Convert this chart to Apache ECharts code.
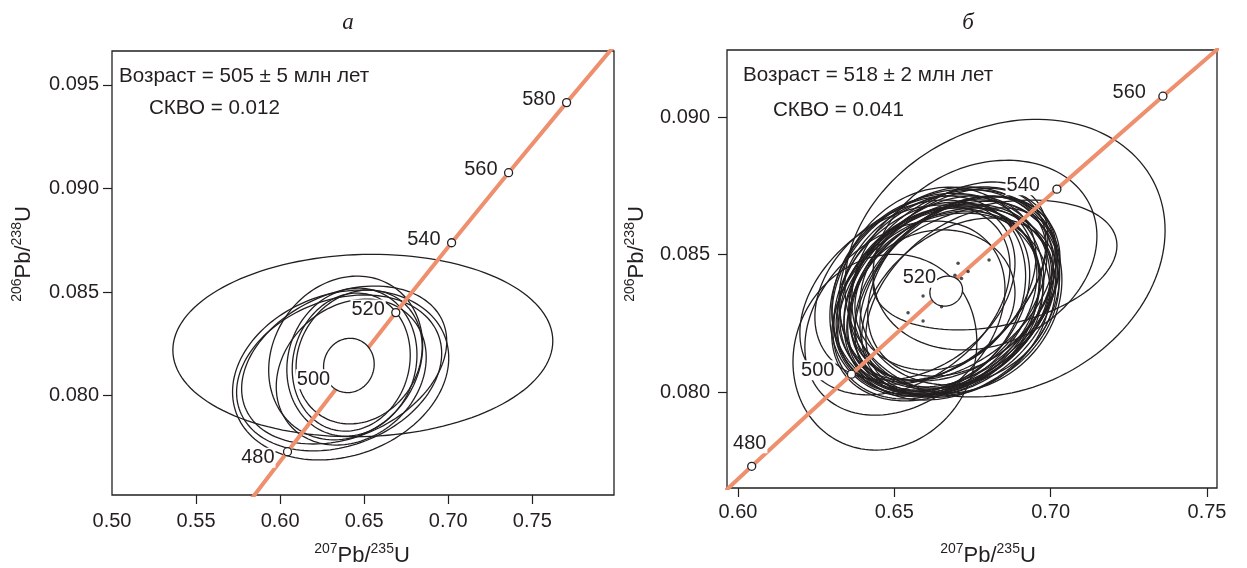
<!DOCTYPE html>
<html>
<head>
<meta charset="utf-8">
<script src="https://cdn.jsdelivr.net/npm/echarts@6.0.0/dist/echarts.min.js"></script>
<style>
  html, body { margin: 0; padding: 0; background: #fff; }
  #chart { width: 1247px; height: 568px; }
</style>
</head>
<body>
<div id="chart"></div>
<script>
// concordia: age (Ma) -> 207Pb/235U, 206Pb/238U
const concAge = [440, 460, 480, 500, 520, 540, 560, 580, 600]
const concX = [0.5424, 0.5731, 0.6044, 0.6363, 0.6688, 0.7020, 0.7359, 0.7704, 0.8056]
const concY = [0.07064, 0.07397, 0.07730, 0.08065, 0.08401, 0.08738, 0.09076, 0.09414, 0.09754]

const aTickAges = [480, 500, 520, 540, 560, 580]
const bTickAges = [480, 500, 520, 540, 560]

// axis ticks
const aXTicks = [0.50, 0.55, 0.60, 0.65, 0.70, 0.75]
const aYTicks = [0.080, 0.085, 0.090, 0.095]
const bXTicks = [0.60, 0.65, 0.70, 0.75]
const bYTicks = [0.080, 0.085, 0.090]

// panel a: error ellipses (centre, half-extent in x / y, correlation)
const aCx = [0.6492, 0.6360, 0.6351, 0.6381, 0.6390, 0.6427, 0.6423, 0.6470, 0.6423]
const aCy = [0.08242, 0.08100, 0.08110, 0.08148, 0.08182, 0.08162, 0.08162, 0.08187, 0.08114]
const aSx = [0.1130, 0.0643, 0.0610, 0.0610, 0.0458, 0.0387, 0.0351, 0.0375, 0.0446]
const aSy = [0.00440, 0.00410, 0.00376, 0.00381, 0.00395, 0.00357, 0.00333, 0.00323, 0.00352]
const aRho = [0.05, 0.2, 0.25, 0.3, 0.15, 0.1, 0.1, 0.15, 0.2]
const aMean = [0.6409, 0.08146, 0.01506, 0.00131, 0.05]

// panel b
const bCx = [0.6662, 0.6678, 0.6646, 0.6694, 0.6671, 0.6630, 0.6703, 0.6652, 0.6684, 0.6639, 0.6710, 0.6665,
  0.6687, 0.6620, 0.6719, 0.6659, 0.6678, 0.6646, 0.6700, 0.6633, 0.6671, 0.6694, 0.6607, 0.6716,
  0.6659, 0.6681, 0.6643, 0.6703, 0.6470, 0.6854, 0.6790, 0.6822, 0.6534, 0.6566, 0.6534, 0.6630]
const bCy = [0.08364, 0.08349, 0.08335, 0.08378, 0.08371, 0.08324, 0.08353, 0.08385, 0.08335, 0.08356, 0.08364, 0.08342,
  0.08393, 0.08342, 0.08335, 0.08360, 0.08316, 0.08378, 0.08371, 0.08313, 0.08400, 0.08327, 0.08349, 0.08385,
  0.08335, 0.08356, 0.08367, 0.08313, 0.08145, 0.08487, 0.08498, 0.08462, 0.08335, 0.08371, 0.08269, 0.08335]
const bSx = [0.0336, 0.0330, 0.0320, 0.0320, 0.0352, 0.0326, 0.0313, 0.0333, 0.0345, 0.0339, 0.0320, 0.0310,
  0.0333, 0.0313, 0.0310, 0.0358, 0.0320, 0.0307, 0.0336, 0.0333, 0.0320, 0.0333, 0.0313, 0.0301,
  0.0345, 0.0307, 0.0320, 0.0307, 0.0294, 0.0512, 0.0358, 0.0390, 0.0336, 0.0320, 0.0320, 0.0256]
const bSy = [0.00353, 0.00345, 0.00342, 0.00335, 0.00364, 0.00349, 0.00327, 0.00356, 0.00364, 0.00367, 0.00345, 0.00327,
  0.00353, 0.00349, 0.00335, 0.00378, 0.00335, 0.00335, 0.00375, 0.00345, 0.00364, 0.00342, 0.00364, 0.00327,
  0.00349, 0.00356, 0.00378, 0.00320, 0.00356, 0.00505, 0.00345, 0.00236, 0.00345, 0.00327, 0.00353, 0.00255]
const bRho = [0.15, 0.35, 0.2, 0.4, 0.25, 0.3, 0.1, 0.45, 0.25, 0.15, 0.35, 0.1,
  0.3, 0.25, 0.4, 0.2, 0.15, 0.35, 0.1, 0.3, 0.45, 0.2, 0.2, 0.3,
  0.25, 0.4, 0.1, 0.35, 0.1, 0.2, 0.2, 0.3, 0.35, 0.3, 0.3, 0.1]
const bMean = [0.6666, 0.08367, 0.00522, 0.000545, 0.1]
const bDotX = [0.6704, 0.6694, 0.6736, 0.6715, 0.6803, 0.6592, 0.6544, 0.6592, 0.6651]
const bDotY = [0.08468, 0.08425, 0.08438, 0.08413, 0.08480, 0.08349, 0.08288, 0.08258, 0.08310]

const aTitle = 'а'
const bTitle = 'б'
const aAge = 'Возраст = 505 ± 5 млн лет'
const aMswd = 'СКВО = 0.012'
const bAge = 'Возраст = 518 ± 2 млн лет'
const bMswd = 'СКВО = 0.041'

const FONT = "'Liberation Sans', Arial, sans-serif"
const INK = '#231f20'
const ORANGE = '#ee8f6e'

const rows = (cx, cy, sx, sy, rho) => cx.map((x, i) => [x, cy[i], sx[i], sy[i], rho[i]])
const concData = concX.map((x, i) => [x, concY[i]])
const tickData = ages => ages.map(a => {
  const i = concAge.indexOf(a)
  return [concX[i], concY[i], a]
})

// ellipse outline through the axis scales
const ellipse = (fill, width) => (params, api) => {
  const cx = api.value(0), cy = api.value(1), sx = api.value(2), sy = api.value(3), r = api.value(4)
  const pts = []
  for (let k = 0; k < 144; k++) {
    const t = 2 * Math.PI * k / 144
    pts.push(api.coord([cx + sx * Math.cos(t), cy + sy * (r * Math.cos(t) + Math.sqrt(1 - r * r) * Math.sin(t))]))
  }
  return {
    type: 'polygon',
    shape: { points: pts },
    style: { fill: fill, stroke: INK, lineWidth: width }
  }
}

// age labels next to the concordia markers (white box hides lines behind)
const ageLabel = (dx, dy, special) => (params, api) => {
  const p = api.coord([api.value(0), api.value(1)])
  const age = api.value(2)
  const s = (age === 480 && special) ? special : { dx: dx, dy: dy, align: 'right' }
  return {
    type: 'text', x: p[0] + s.dx, y: p[1] + s.dy,
    style: {
      text: String(age), font: '20px ' + FONT, fill: INK,
      align: s.align, verticalAlign: 'middle', backgroundColor: '#fff', padding: [0, 1, 0, 1]
    }
  }
}

const xAx = (grid, min, max, labels, ticks, margin) => ({
  gridIndex: grid, type: 'value', min: min, max: max,
  axisLine: { show: false }, splitLine: { show: false },
  axisTick: { show: true, length: 9, customValues: ticks, lineStyle: { color: INK, width: 1.2 } },
  axisLabel: { customValues: labels, margin: margin, formatter: v => v.toFixed(2), fontSize: 20, color: INK, fontFamily: FONT }
})
const yAx = (grid, min, max, ticks, margin) => ({
  gridIndex: grid, type: 'value', min: min, max: max,
  axisLine: { show: false }, splitLine: { show: false },
  axisTick: { show: true, length: 9, customValues: ticks, lineStyle: { color: INK, width: 1.2 } },
  axisLabel: { customValues: ticks, margin: margin, formatter: v => v.toFixed(3), fontSize: 20, color: INK, fontFamily: FONT }
})

const concSeries = idx => ({
  type: 'line', xAxisIndex: idx, yAxisIndex: idx, z: 3, data: concData,
  showSymbol: false, silent: true, lineStyle: { color: ORANGE, width: 4 }
})
const markerSeries = (idx, ages) => ({
  type: 'scatter', xAxisIndex: idx, yAxisIndex: idx, z: 3, silent: true,
  data: tickData(ages), symbolSize: 8,
  itemStyle: { color: '#fff', borderColor: INK, borderWidth: 1.3, opacity: 1 }
})

const supName = "{s|$1}{m|Pb/}{s|$2}{m|U}"
const richName = {
  s: { fontSize: 14, lineHeight: 8, verticalAlign: 'top', fontFamily: FONT, fill: INK },
  m: { fontSize: 22, lineHeight: 28, verticalAlign: 'middle', fontFamily: FONT, fill: INK }
}
const axisName = (x, y, a, b, rot) => ({
  type: 'text', x: x, y: y, rotation: rot,
  style: { text: supName.replace('$1', a).replace('$2', b), rich: richName, align: 'center', verticalAlign: 'middle', fill: INK }
})
const note = (x, y, t) => ({
  type: 'text', x: x, y: y,
  style: { text: t, font: '20.6px ' + FONT, fill: INK, verticalAlign: 'middle' }
})
const panelTitle = (x, t) => ({
  type: 'text', x: x, y: 23,
  style: { text: t, font: "italic 23px 'Liberation Serif', 'DejaVu Serif', serif", fill: INK, align: 'center', verticalAlign: 'middle' }
})

const chart = echarts.init(document.getElementById('chart'))
chart.setOption({
  animation: false,
  backgroundColor: '#fff',
  grid: [
    { left: 112, top: 51, width: 502, height: 444, show: true, borderColor: INK, borderWidth: 1.3 },
    { left: 727, top: 50, width: 490, height: 438, show: true, borderColor: INK, borderWidth: 1.3 }
  ],
  xAxis: [
    xAx(0, 0.50, 0.7986, aXTicks, aXTicks.slice(1), 16),
    xAx(1, 0.5965, 0.7532, bXTicks, bXTicks, 14)
  ],
  yAxis: [
    yAx(0, 0.07521, 0.09663, aYTicks, 13),
    yAx(1, 0.07651, 0.09244, bYTicks, 17)
  ],
  series: [
    { type: 'custom', xAxisIndex: 0, yAxisIndex: 0, z: 2, clip: true, silent: true,
      data: rows(aCx, aCy, aSx, aSy, aRho), renderItem: ellipse('none', 1.3) },
    concSeries(0),
    markerSeries(0, aTickAges),
    { type: 'custom', xAxisIndex: 0, yAxisIndex: 0, z: 4, silent: true,
      data: [aMean], renderItem: ellipse('#fff', 1.3) },
    { type: 'custom', xAxisIndex: 0, yAxisIndex: 0, z: 6, silent: true,
      data: tickData(aTickAges), renderItem: ageLabel(-10, -3, { dx: -12, dy: 6, align: 'right' }) },

    { type: 'custom', xAxisIndex: 1, yAxisIndex: 1, z: 2, clip: true, silent: true,
      data: rows(bCx, bCy, bSx, bSy, bRho), renderItem: ellipse('none', 1.3) },
    concSeries(1),
    markerSeries(1, bTickAges),
    { type: 'custom', xAxisIndex: 1, yAxisIndex: 1, z: 4, silent: true,
      data: [bMean], renderItem: ellipse('#fff', 1.3) },
    { type: 'scatter', xAxisIndex: 1, yAxisIndex: 1, z: 5, silent: true,
      data: bDotX.map((x, i) => [x, bDotY[i]]), symbolSize: 3.5, itemStyle: { color: INK } },
    { type: 'custom', xAxisIndex: 1, yAxisIndex: 1, z: 6, silent: true,
      data: tickData(bTickAges), renderItem: ageLabel(-16, -4, { dx: -2, dy: -23, align: 'center' }) }
  ],
  graphic: [
    panelTitle(348, aTitle),
    panelTitle(968, bTitle),
    note(119, 76, aAge),
    note(149, 108, aMswd),
    note(743, 75, bAge),
    note(773, 110, bMswd),
    axisName(362, 556, '207', '235', 0),
    axisName(988, 556, '207', '235', 0),
    axisName(24, 254, '206', '238', Math.PI / 2),
    axisName(637, 254, '206', '238', Math.PI / 2)
  ]
})
</script>
</body>
</html>
